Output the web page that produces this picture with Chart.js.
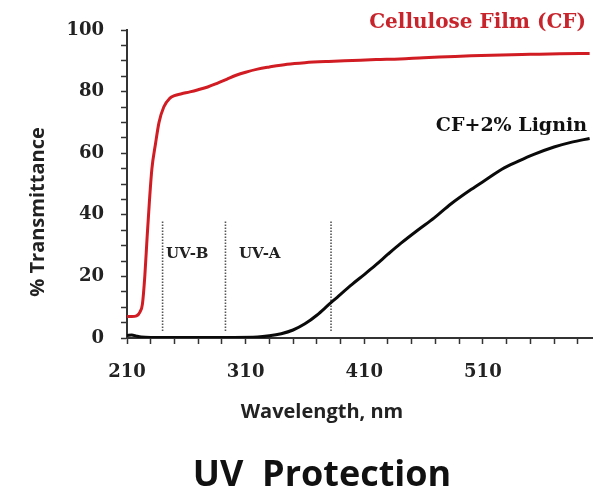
<!DOCTYPE html>
<html>
<head>
<meta charset="utf-8">
<script src="https://cdn.jsdelivr.net/npm/chart.js@4.4.1/dist/chart.umd.min.js"></script>
<style>
html,body{margin:0;padding:0;background:#fff;}
#wrap{width:599px;height:491px;position:relative;}
</style>
</head>
<body>
<div id="wrap"><canvas id="c" width="599" height="491"></canvas></div>
<script>
// ---- data ----
const CF_WAVELENGTH = [210,214,218,221,223,225,227,229,231,234,237,241,246,250,256,263,270,278,286,294,302,310,320,330,345,360,380,400,420,440,460,480,500,526,550,575,600];
const CF_T          = [7.0,7.0,7.2,8.5,11,20,33,45,55,63,70,75,77.8,78.7,79.3,79.9,80.6,81.5,82.7,84,85.3,86.3,87.3,88,88.9,89.4,89.8,90.1,90.4,90.6,91,91.3,91.6,91.9,92.1,92.3,92.4];
const LIG_WAVELENGTH = [210,214,218,222,230,260,300,320,330,340,350,360,370,380,390,400,410,420,430,441,455,469,483,500,515,526,540,553,570,585,600];
const LIG_T          = [0.8,1.0,0.6,0.3,0.2,0.2,0.2,0.3,0.7,1.4,2.6,4.6,7.4,10.8,14.2,17.5,20.6,23.8,27.2,30.8,35,39,43.5,48.2,52,54.8,57.4,59.6,62,63.6,64.8];
const UV_BOUNDS = [240, 293, 382];      // dotted region boundaries (nm)
const UV_BOUND_RANGE = [2.3, 38];        // vertical extent of the dotted lines (%T)
const X_TICK_LABELS = [210, 310, 410, 510];
const Y_TICK_LABELS = [0, 20, 40, 60, 80, 100];
const X_MIN = 210, X_MAX = 602, X_MINOR_STEP = 20;
const Y_MIN = 0, Y_MAX = 100, Y_MINOR_STEP = 5;

const cfData = CF_WAVELENGTH.map((x,i)=>({x, y: CF_T[i]}));
const ligData = LIG_WAVELENGTH.map((x,i)=>({x, y: LIG_T[i]}));
const boundSets = UV_BOUNDS.map(b => ({
  data: [{x:b, y:UV_BOUND_RANGE[0]}, {x:b, y:UV_BOUND_RANGE[1]}],
  borderColor: '#555', borderWidth: 1.6, borderDash: [1.5, 1.5], pointRadius: 0, tension: 0
}));

const xTicks = []; for (let v = X_MIN; v <= X_MAX; v += X_MINOR_STEP) xTicks.push({value: v});
const yTicks = []; for (let v = Y_MIN; v <= Y_MAX; v += Y_MINOR_STEP) yTicks.push({value: v});

const textPlugin = {
  id: 'texts',
  afterDraw(chart) {
    const ctx = chart.ctx;
    ctx.save();
    ctx.textBaseline = 'middle';
    // series labels
    ctx.fillStyle = '#c8242c';
    ctx.font = 'bold 20px "DejaVu Serif"';
    ctx.textAlign = 'right';
    ctx.fillText('Cellulose Film (CF)', 586, 23);
    ctx.fillStyle = '#111';
    ctx.font = 'bold 19px "DejaVu Serif"';
    ctx.fillText('CF+2% Lignin', 587, 126);
    // region labels
    ctx.textAlign = 'left';
    ctx.font = 'bold 15px "DejaVu Serif"';
    ctx.fillStyle = '#222';
    ctx.fillText('UV-B', 166, 254);
    ctx.fillText('UV-A', 239, 254);
    // axis titles
    ctx.fillStyle = '#222';
    ctx.textAlign = 'center';
    ctx.font = 'bold 20px "Open Sans"';
    ctx.fillText('Wavelength, nm', 322, 412);
    ctx.save();
    ctx.translate(38, 212);
    ctx.rotate(-Math.PI/2);
    ctx.font = 'bold 20px "Open Sans"';
    ctx.fillText('% Transmittance', 0, 0);
    ctx.restore();
    // caption
    ctx.fillStyle = '#111';
    ctx.font = 'bold 36px "Open Sans"';
    ctx.textBaseline = 'alphabetic';
    ctx.fillText('UV  Protection', 322, 486);
    ctx.restore();
  }
};

new Chart(document.getElementById('c'), {
  type: 'line',
  data: {
    datasets: [
      { data: cfData, borderColor: '#d01c22', borderWidth: 3, pointRadius: 0, tension: 0.35, cubicInterpolationMode: 'monotone' },
      { data: ligData, borderColor: '#0a0a0a', borderWidth: 3, pointRadius: 0, tension: 0.35, cubicInterpolationMode: 'monotone' },
      ...boundSets
    ]
  },
  options: {
    responsive: false,
    animation: false,
    layout: { padding: { left: 0, right: 7, top: 30, bottom: 93 } },
    plugins: { legend: { display: false }, tooltip: { enabled: false }, title: { display: false } },
    scales: {
      x: {
        type: 'linear', min: X_MIN, max: X_MAX,
        afterBuildTicks: s => { s.ticks = xTicks.map(t => ({value: t.value})); },
        afterFit: s => { s.height = 60; },
        border: { display: true, color: '#333', width: 2 },
        grid: { drawOnChartArea: false, drawTicks: true, tickLength: 6, color: '#333', tickWidth: 1.5 },
        ticks: {
          autoSkip: false, maxRotation: 0, padding: 18, color: '#222',
          font: { family: '"DejaVu Serif"', size: 18, weight: 'bold' },
          callback: v => X_TICK_LABELS.includes(v) ? String(v) : ''
        }
      },
      y: {
        type: 'linear', min: Y_MIN, max: Y_MAX,
        afterBuildTicks: s => { s.ticks = yTicks.map(t => ({value: t.value})); },
        afterFit: s => { s.width = 127; },
        border: { display: true, color: '#333', width: 2 },
        grid: { drawOnChartArea: false, drawTicks: true, tickLength: 6, color: '#333', tickWidth: 1.5 },
        ticks: {
          autoSkip: false, padding: 17, color: '#222',
          font: { family: '"DejaVu Serif"', size: 18, weight: 'bold' },
          callback: v => Y_TICK_LABELS.includes(v) ? String(v) : ''
        }
      }
    }
  },
  plugins: [textPlugin]
});
</script>
</body>
</html>
